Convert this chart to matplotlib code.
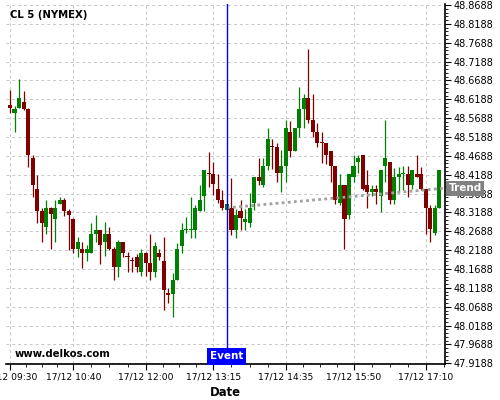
import numpy as np
import matplotlib
matplotlib.use('Agg')
import matplotlib.pyplot as plt
from matplotlib.ticker import FixedLocator

plt.rcParams.update({
    'font.family': 'DejaVu Sans',
    'font.size': 6.6,
})

# ── Data: 5-min candles of CL 5 (NYMEX), 17/12 from 09:30 ─────────────────────
opens = [48.604, 48.583, 48.596, 48.612, 48.593, 48.463, 48.381, 48.323, 48.280, 48.331,
         48.302, 48.341, 48.352, 48.323, 48.302, 48.222, 48.222, 48.212, 48.212, 48.262,
         48.273, 48.241, 48.262, 48.222, 48.174, 48.241, 48.204, 48.193, 48.201, 48.161,
         48.212, 48.185, 48.161, 48.212, 48.190, 48.106, 48.103, 48.140, 48.230, 48.273,
         48.273, 48.273, 48.323, 48.363, 48.424, 48.421, 48.381, 48.352, 48.326, 48.331,
         48.273, 48.323, 48.294, 48.291, 48.344, 48.413, 48.392, 48.442, 48.495, 48.492,
         48.424, 48.442, 48.532, 48.482, 48.543, 48.593, 48.622, 48.564, 48.532, 48.506,
         48.503, 48.482, 48.442, 48.344, 48.392, 48.312, 48.413, 48.453, 48.471, 48.392,
         48.373, 48.381, 48.363, 48.442, 48.453, 48.352, 48.413, 48.421, 48.421, 48.392,
         48.421, 48.421, 48.381, 48.331, 48.265, 48.331]
closes = [48.596, 48.592, 48.622, 48.593, 48.471, 48.392, 48.323, 48.291, 48.331, 48.315,
          48.331, 48.352, 48.323, 48.312, 48.222, 48.241, 48.212, 48.222, 48.262, 48.273,
          48.233, 48.262, 48.222, 48.174, 48.241, 48.212, 48.201, 48.190, 48.174, 48.212,
          48.185, 48.161, 48.230, 48.201, 48.114, 48.100, 48.140, 48.222, 48.273, 48.275,
          48.275, 48.331, 48.352, 48.432, 48.421, 48.394, 48.352, 48.331, 48.341, 48.273,
          48.312, 48.304, 48.302, 48.331, 48.413, 48.402, 48.442, 48.514, 48.492, 48.424,
          48.442, 48.543, 48.482, 48.543, 48.593, 48.622, 48.564, 48.532, 48.503, 48.503,
          48.471, 48.442, 48.352, 48.392, 48.302, 48.421, 48.442, 48.463, 48.381, 48.373,
          48.381, 48.373, 48.432, 48.463, 48.352, 48.413, 48.421, 48.424, 48.392, 48.432,
          48.413, 48.381, 48.331, 48.275, 48.331, 48.432]
highs = [48.644, 48.602, 48.673, 48.642, 48.597, 48.471, 48.418, 48.331, 48.352, 48.333,
         48.352, 48.360, 48.357, 48.328, 48.304, 48.254, 48.241, 48.233, 48.291, 48.312,
         48.273, 48.294, 48.280, 48.227, 48.246, 48.241, 48.214, 48.201, 48.209, 48.222,
         48.214, 48.262, 48.241, 48.222, 48.254, 48.119, 48.159, 48.238, 48.291, 48.307,
         48.360, 48.339, 48.392, 48.432, 48.479, 48.453, 48.421, 48.379, 48.341, 48.410,
         48.328, 48.352, 48.328, 48.371, 48.413, 48.463, 48.463, 48.543, 48.514, 48.503,
         48.485, 48.564, 48.561, 48.543, 48.651, 48.633, 48.752, 48.633, 48.556, 48.532,
         48.503, 48.482, 48.442, 48.421, 48.392, 48.421, 48.471, 48.471, 48.471, 48.432,
         48.392, 48.392, 48.432, 48.564, 48.453, 48.437, 48.440, 48.442, 48.442, 48.432,
         48.471, 48.440, 48.381, 48.339, 48.339, 48.432]
lows = [48.583, 48.532, 48.596, 48.591, 48.439, 48.360, 48.291, 48.241, 48.262, 48.222,
        48.241, 48.341, 48.310, 48.220, 48.212, 48.201, 48.172, 48.190, 48.212, 48.241,
        48.182, 48.204, 48.220, 48.140, 48.148, 48.201, 48.161, 48.161, 48.161, 48.151,
        48.151, 48.140, 48.148, 48.193, 48.061, 48.079, 48.042, 48.140, 48.212, 48.265,
        48.251, 48.251, 48.323, 48.323, 48.386, 48.365, 48.344, 48.326, 48.326, 48.259,
        48.251, 48.273, 48.273, 48.280, 48.326, 48.392, 48.386, 48.432, 48.434, 48.400,
        48.373, 48.400, 48.466, 48.482, 48.519, 48.543, 48.556, 48.519, 48.492, 48.450,
        48.447, 48.400, 48.341, 48.339, 48.222, 48.302, 48.400, 48.424, 48.378, 48.331,
        48.363, 48.341, 48.320, 48.400, 48.341, 48.341, 48.373, 48.378, 48.360, 48.381,
        48.413, 48.378, 48.262, 48.241, 48.259, 48.331]

tick_idx    = [0, 14, 30, 45, 61, 76, 92]
tick_labels = ['17/12 09:30', '17/12 10:40', '17/12 12:00', '17/12 13:15',
               '17/12 14:35', '17/12 15:50', '17/12 17:10']
y_ticks     = [47.9188, 47.9688, 48.0188, 48.0688, 48.1188, 48.1688, 48.2188, 48.2688,
               48.3188, 48.3688, 48.4188, 48.4688, 48.5188, 48.5688, 48.6188, 48.6688,
               48.7188, 48.7688, 48.8188, 48.8688]

event_idx   = 47.9
trend_idx   = [48, 96]
trend_price = [48.331, 48.383]

GREEN = '#008000'
RED   = '#800000'

# ── Figure ────────────────────────────────────────────────────────────────────
fig = plt.figure(figsize=(5, 4), dpi=100)
ax = fig.add_axes([0.012, 0.09, 0.878, 0.90])

x = np.arange(len(opens))
o = np.array(opens); c = np.array(closes)
h = np.array(highs); l = np.array(lows)
colors = [GREEN if cc >= oo else RED for oo, cc in zip(o, c)]

ax.vlines(x, l, h, colors=colors, linewidth=0.9, zorder=3)
bottom = np.minimum(o, c)
height = np.maximum(np.abs(c - o), 0.0015)
ax.bar(x, height, 0.9, bottom=bottom, color=colors, linewidth=0, zorder=4)

# trend line
ax.plot(trend_idx, trend_price, linestyle=(0, (1, 1.2)), color='#a0a0a0',
        linewidth=2, zorder=5)

# event line
ax.axvline(event_idx, color='#0000ff', linewidth=1, zorder=6)
ax.text(event_idx, 0.021, 'Event', transform=ax.get_xaxis_transform(),
        ha='center', va='center', color='white', fontweight='bold', fontsize=7.5,
        bbox=dict(boxstyle='square,pad=0.3', fc='#0000ff', ec='none'), zorder=7)

# trend label
ax.text(1.008, trend_price[-1], 'Trend', transform=ax.get_yaxis_transform(),
        ha='left', va='center', color='white', fontweight='bold', fontsize=7.5,
        bbox=dict(boxstyle='square,pad=0.25', fc='#808080', ec='none'),
        clip_on=False, zorder=7)

ax.text(0.009, 0.969, 'CL 5 (NYMEX)', transform=ax.transAxes, ha='left', va='center',
        fontweight='bold', fontsize=7.3)
ax.text(0.02, 0.028, 'www.delkos.com', transform=ax.transAxes, ha='left', va='center',
        fontweight='bold', fontsize=7.3)

# axes styling
ax.set_xlim(-0.885, 96.24)
ax.set_ylim(47.917, 48.8715)

ax.set_xticks(tick_idx)
ax.set_xticklabels(tick_labels)
minors = []
for a, b in zip(tick_idx[:-1], tick_idx[1:]):
    minors += [a + (b - a) * k / 4 for k in (1, 2, 3)]
minors.append(tick_idx[-1] + (tick_idx[-1] - tick_idx[-2]) / 4)
ax.xaxis.set_minor_locator(FixedLocator(minors))

ax.set_yticks(y_ticks)
ax.set_yticklabels([f'{v:.4f}' for v in y_ticks])
ymin = [y_ticks[0] + 0.01 * k for k in range(1, 5 * len(y_ticks)) if k % 5]
ax.yaxis.set_minor_locator(FixedLocator([v for v in ymin if v < 48.871]))
ax.yaxis.tick_right()

ax.tick_params(axis='both', which='major', length=4, width=0.8, pad=2, labelsize=6.6)
ax.tick_params(axis='both', which='minor', length=2, width=0.6)
ax.tick_params(axis='y', which='major', labelsize=7)

for s in ['top', 'left']:
    ax.spines[s].set_visible(False)
for s in ['bottom', 'right']:
    ax.spines[s].set_linewidth(1.2)

ax.grid(True, which='major', color='#c8c8c8', linestyle=(0, (3, 3)), linewidth=0.7)
ax.set_axisbelow(True)

ax.set_xlabel('Date', fontweight='bold', fontsize=8.4, labelpad=3)

fig.savefig('out.png', dpi=100)
